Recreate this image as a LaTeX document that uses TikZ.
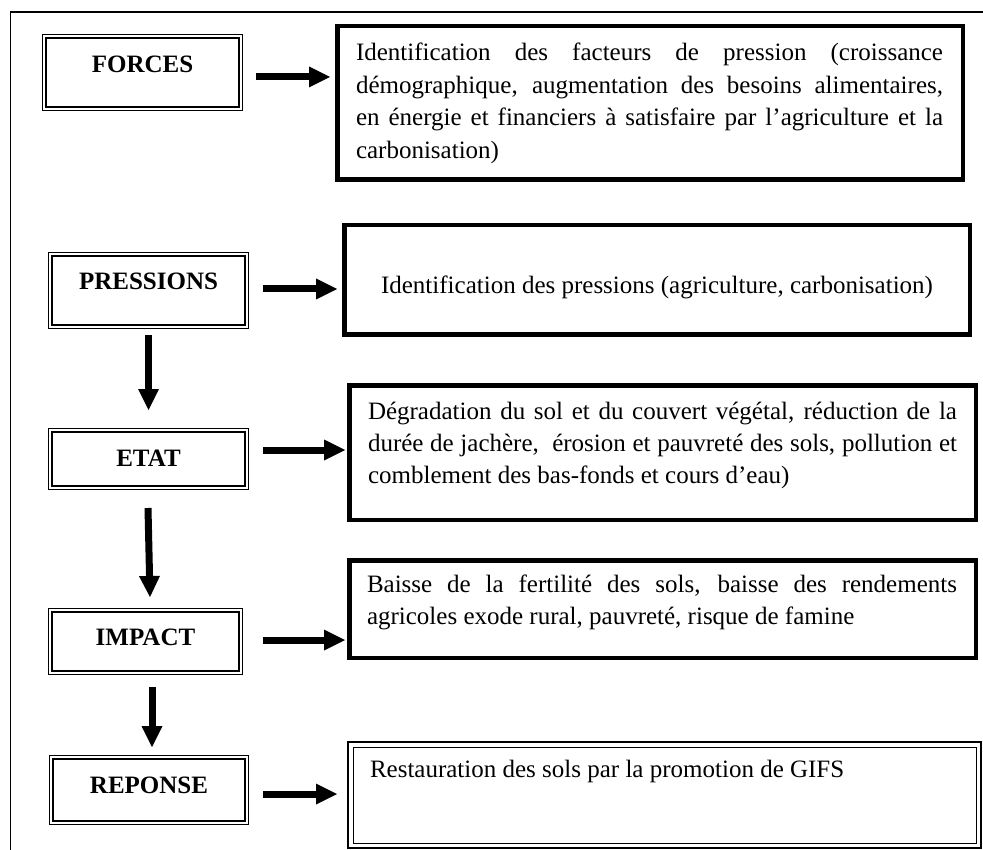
\documentclass[tikz,border=0pt]{standalone}
\usepackage{fontspec}
\setmainfont{Liberation Serif}
\usetikzlibrary{arrows.meta,calc}
\tolerance=10000
\begin{document}
\begin{tikzpicture}[x=1pt,y=-1pt,
  lbox/.style={draw, line width=1.2pt, inner sep=0pt, outer sep=0pt, anchor=base,
    font=\fontsize{25}{32.5}\selectfont\bfseries},
  lframe/.style={line width=2pt},
  rbox/.style={draw, line width=4.5pt, inner sep=0pt, outer sep=0pt, anchor=north west},
  rbox2/.style={draw, line width=2pt, inner sep=0pt, outer sep=0pt, anchor=north west},
  tblock/.style={inner sep=0pt, outer sep=0pt, anchor=base west,
    font=\fontsize{25}{32.5}\selectfont},
  harrow/.style={line width=7pt, -{Triangle[length=21pt,width=21pt,line width=0pt]}},
  frameline/.style={line width=1.3pt}
]
\useasboundingbox (0,0) rectangle (983,850);
\clip (0,0) rectangle (983,850);

% outer frame (only top and left edges visible)
\draw[frameline] (10.5,860) |- (990,12);

% left boxes
\node[lbox, minimum width=200pt, text height=38.5pt, text depth=37.5pt] (forces) at (142.5,73) {FORCES};
\node[lbox, minimum width=200pt, text height=37.5pt, text depth=38.5pt] (pressions) at (148.5,290) {PRESSIONS};
\node[lbox, minimum width=200pt, text height=37.5pt, text depth=23.5pt] (etat) at (148.5,466) {ETAT};
\node[lbox, minimum width=194pt, text height=36.5pt, text depth=29.5pt] (impact) at (145.5,645) {IMPACT};
\node[lbox, minimum width=199pt, text height=37.5pt, text depth=31.5pt] (reponse) at (149,793) {REPONSE};
\foreach \n in {forces,pressions,etat,impact,reponse}{
  \draw[lframe] ([shift={(3.8,3.8)}]\n.north west) rectangle ([shift={(-3.8,-3.8)}]\n.south east);
}

% right boxes
\node[rbox, minimum width=625.5pt, minimum height=153.5pt] (r1) at (337.25,26.25) {};
\node[rbox, minimum width=625.5pt, minimum height=109.5pt] (r2) at (344.25,225.25) {};
\node[rbox, minimum width=626.5pt, minimum height=134.5pt] (r3) at (349.25,385.25) {};
\node[rbox, minimum width=626.5pt, minimum height=97.5pt] (r4) at (349.25,560.25) {};
\node[rbox2, minimum width=633pt, minimum height=106pt] (r5) at (348,742) {};
\draw[line width=1pt] ([shift={(5,5)}]r5.north west) rectangle ([shift={(-5,-5)}]r5.south east);

% texts
\node[tblock] (t1) at (356,61) {\parbox[t]{587pt}{Identification des facteurs de pression (croissance\linebreak
démographique, augmentation des besoins alimentaires,\linebreak
en énergie et financiers à satisfaire par l’agriculture et la\linebreak
carbonisation)}};
\node[tblock, anchor=base] (t2) at (657,294) {Identification des pressions (agriculture, carbonisation)};
\node[tblock] (t3) at (368,419) {\parbox[t]{589pt}{Dégradation du sol et du couvert végétal, réduction de la\linebreak
durée de jachère,\ \ érosion et pauvreté des sols, pollution et\linebreak
comblement des bas-fonds et cours d’eau)}};
\node[tblock] (t4) at (367,592) {\parbox[t]{590pt}{Baisse de la fertilité des sols, baisse des rendements\linebreak
agricoles exode rural, pauvreté, risque de famine}};
\node[tblock] (t5) at (370,777) {Restauration des sols par la promotion de GIFS};

% horizontal arrows
\draw[harrow] ($(forces.east)+(13.5,4.5)$) -- ($(forces.east -| r1.west)+(-7.25,4.5)$);
\draw[harrow] ($(pressions.east)+(14.5,-1.5)$) -- ($(pressions.east -| r2.west)+(-7.25,-1.5)$);
\draw[harrow] ($(etat.east)+(14.5,-9)$) -- ($(etat.east -| r3.west)+(-4.25,-9)$);
\draw[harrow] ($(impact.east)+(20.5,-1.5)$) -- ($(impact.east -| r4.west)+(-4.25,-1.5)$);
\draw[harrow] ($(reponse.east)+(14.5,4)$) -- ($(reponse.east -| r5.west)+(-11,4)$);

% vertical arrows
\draw[harrow] ($(pressions.south)+(0,6.5)$) -- ($(etat.north)+(0,-18.5)$);
\draw[harrow] ($(etat.south)+(-0.5,18.5)$) -- ($(impact.north)+(4.5,-11.5)$);
\draw[harrow] ($(impact.south)+(6.5,12.5)$) -- ($(reponse.north)+(3,-8.5)$);
\end{tikzpicture}
\end{document}
